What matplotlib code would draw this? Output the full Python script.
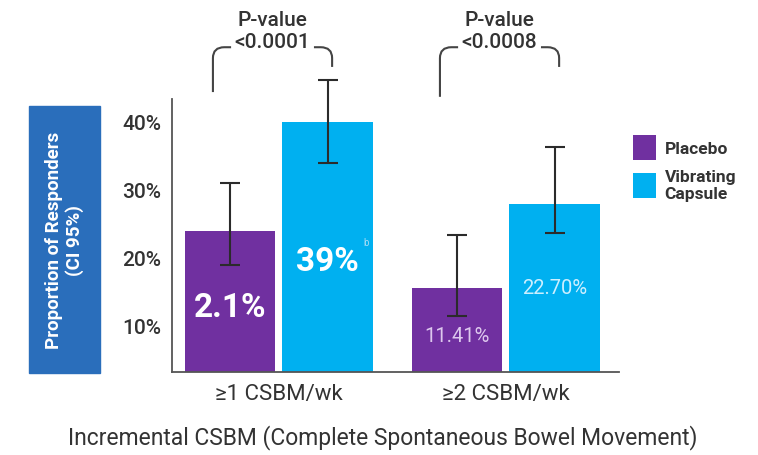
import numpy as np
import matplotlib
matplotlib.use("Agg")
import matplotlib.pyplot as plt
from matplotlib.path import Path
from matplotlib.patches import PathPatch, Rectangle

plt.rcParams['font.family'] = ['Roboto', 'DejaVu Sans']

categories = ['≥1 CSBM/wk', '≥2 CSBM/wk']
series = ['Placebo', 'Vibrating\nCapsule']
placebo = [24.0, 15.6]
capsule = [40.0, 28.0]
placebo_lo = [19.0, 11.5]
placebo_hi = [31.0, 23.4]
capsule_lo = [34.0, 23.6]
capsule_hi = [46.2, 36.3]
bar_labels_placebo = ['2.1%', '11.41%']
bar_labels_capsule = ['39%', '22.70%']
p_values = ['<0.0001', '<0.0008']
yticks = [10, 20, 30, 40]

c_pl = '#7030a0'
c_vc = '#00b0f0'
dark = '#333333'

fig = plt.figure(figsize=(7.58, 4.56), dpi=100)
ax = fig.add_axes([0.227, 0.182, 0.590, 0.599])

x = np.arange(len(categories))
w = 0.40
off = 0.215
ax.bar(x - off, placebo, w, color=c_pl, label=series[0])
ax.bar(x + off, capsule, w, color=c_vc, label=series[1])

for xs, lo, hi in [(x - off, placebo_lo, placebo_hi),
                   (x + off, capsule_lo, capsule_hi)]:
    # error bars drawn from lo to hi of the CI
    mid = (np.array(lo) + np.array(hi)) / 2
    half = (np.array(hi) - np.array(lo)) / 2
    eb = ax.errorbar(xs, mid, yerr=half, fmt='none', ecolor='#2b2b2b',
                     elinewidth=1.5, capsize=7, capthick=1.5)
    for art in eb.lines[1] + eb.lines[2]:
        art.set_clip_on(False)

ax.set_xlim(-0.47, 1.50)
ax.set_ylim(3.2, 43.4)
ax.set_yticks(yticks)
ax.set_yticklabels([f'{t}%' for t in yticks], fontsize=15, color=dark,
                   fontweight='medium')
ax.set_xticks(x)
ax.set_xticklabels(categories, fontsize=16, color=dark)
ax.tick_params(length=0, pad=8)
for s in ['top', 'right']:
    ax.spines[s].set_visible(False)
for s in ['left', 'bottom']:
    ax.spines[s].set_color('#555555')
    ax.spines[s].set_linewidth(1.3)

# labels in bars
ax.text(x[0] - off, 12.8, bar_labels_placebo[0], ha='center', va='center',
        color='white', fontsize=24, fontweight='bold')
ax.text(x[0] + off, 19.6, bar_labels_capsule[0], ha='center', va='center',
        color='white', fontsize=24, fontweight='bold')
ax.text(x[0] + off + 0.17, 22.3, 'b', ha='center', va='center',
        color='#a8dcf5', fontsize=7)
ax.text(x[1] - off, 8.5, bar_labels_placebo[1], ha='center', va='center',
        color='#ddc8ee', fontsize=14.5)
ax.text(x[1] + off, 15.7, bar_labels_capsule[1], ha='center', va='center',
        color='#cdefff', fontsize=14.5)

# significance brackets
rx, ry = 0.05, 1.6
yt = 51.0
for i, (yl, yr) in enumerate([(44.4, 48.1), (43.7, 48.1)]):
    xl = x[i] - 0.29
    xr = x[i] + 0.235
    codes = [Path.MOVETO, Path.LINETO, Path.CURVE3, Path.CURVE3, Path.LINETO]
    verts = [(xl, yl), (xl, yt - ry), (xl, yt), (xl + rx, yt), (xl + rx + 0.03, yt)]
    ax.add_patch(PathPatch(Path(verts, codes), fill=False, lw=1.5,
                           edgecolor='#444444', clip_on=False))
    verts = [(xr, yr), (xr, yt - ry), (xr, yt), (xr - rx, yt), (xr - rx - 0.03, yt)]
    ax.add_patch(PathPatch(Path(verts, codes), fill=False, lw=1.5,
                           edgecolor='#444444', clip_on=False))
    ax.text(x[i] - 0.03, 55.1, 'P-value', ha='center', va='center',
            fontsize=15, color=dark, fontweight='medium', clip_on=False)
    ax.text(x[i] - 0.03, 51.8, p_values[i], ha='center', va='center',
            fontsize=15, color=dark, fontweight='medium', clip_on=False)

# y label box
fig.add_artist(Rectangle((0.038, 0.180), 0.094, 0.585,
                         transform=fig.transFigure, color='#2a6ebb'))
fig.text(0.085, 0.473, 'Proportion of Responders\n(CI 95%)', rotation=90,
         ha='center', va='center', color='white', fontsize=13.5,
         fontweight='bold', linespacing=1.2)

fig.text(0.505, 0.04, 'Incremental CSBM (Complete Spontaneous Bowel Movement)',
         ha='center', va='center', fontsize=16.5, color=dark)

fig.legend(loc='upper left', bbox_to_anchor=(0.815, 0.735), frameon=False,
           handlelength=1.3, handleheight=1.8, labelspacing=0.5,
           handletextpad=0.5, prop={'size': 12.5, 'weight': 'bold'},
           labelcolor=dark)

fig.savefig('out.png', dpi=100)
